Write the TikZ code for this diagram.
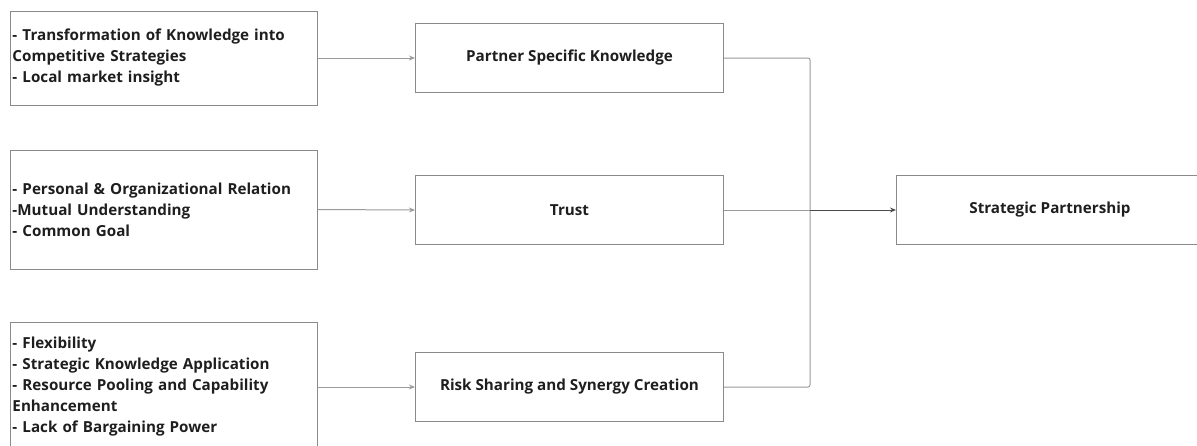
\documentclass[tikz,border=0pt]{standalone}
\usepackage{fontspec}
\setmainfont{Open Sans}
\usetikzlibrary{arrows.meta,calc}
\definecolor{boxgray}{HTML}{8A8A8A}
\definecolor{linegray}{HTML}{9A9A9A}
\definecolor{darkline}{HTML}{4A4A4A}
\definecolor{txt}{HTML}{1E1E1E}
\tikzset{
  box/.style={draw=boxgray, line width=1pt, rectangle, inner sep=0pt, text=txt,
    font=\fontsize{15.2}{21}\selectfont\bfseries},
  leftbox/.style={box, minimum width=307pt, text width=303pt, align=left, inner xsep=2pt},
  midbox/.style={box, minimum width=308pt, minimum height=69pt, align=center},
  conn/.style={draw=linegray, line width=1pt, rounded corners=2pt},
  arr/.style={-{Stealth[length=6pt,width=5pt]}},
}
\begin{document}
\begin{tikzpicture}[x=1pt,y=-1pt]
\useasboundingbox (0,0) rectangle (1197,445);
% left boxes
\node[leftbox, minimum height=94pt] (L1) at (164,58)
  {- Transformation of Knowledge into\\Competitive Strategies\\- Local market insight};
\node[leftbox, minimum height=119pt] (L2) at (164,209.5)
  {- Personal \& Organizational Relation\\-Mutual Understanding\\- Common Goal};
\node[leftbox, minimum height=130pt] (L3) at (164,387)
  {- Flexibility\\- Strategic Knowledge Application\\- Resource Pooling and Capability\\Enhancement\\- Lack of Bargaining Power};
% middle boxes
\node[midbox] (P) at (569.5,58) {Partner Specific Knowledge};
\node[midbox] (T) at (569.5,210) {Trust};
\node[midbox] (R) at (569.5,387) {Risk Sharing and Synergy Creation};
% target
\node[box, minimum width=310pt, minimum height=69pt, anchor=west] (S) at (896,210) {};
\node[text=txt, font=\fontsize{15.2}{18}\selectfont\bfseries] (Slabel) at (1050,210) {Strategic Partnership};
% connectors
\coordinate (J) at (810,210);
\draw[conn, arr] (L1.east) -- (P.west);
\draw[conn, arr] (L2.east) -- (T.west);
\draw[conn, arr] (L3.east) -- (R.west);
\draw[conn] (P.east) -| (J);
\draw[conn] (R.east) -| (J);
\draw[conn] (T.east) -- (J);
\draw[draw=darkline, line width=1pt, arr] (J) -- (S.west);
\end{tikzpicture}
\end{document}
